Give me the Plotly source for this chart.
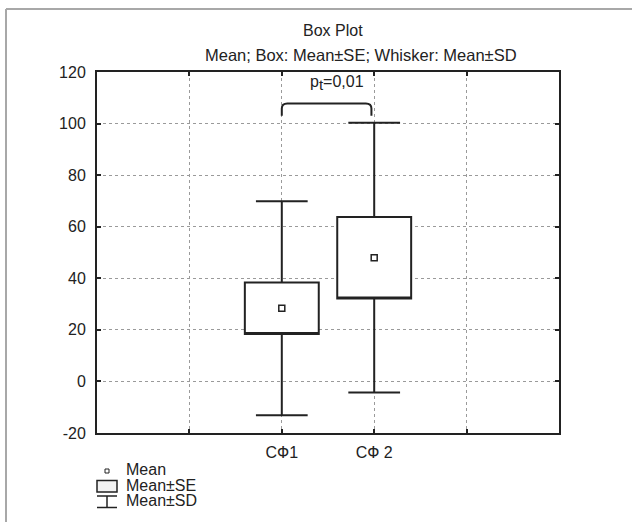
import plotly.graph_objects as go

# ---- data ----
categories = ["СФ1", "СФ 2"]
means = [28.4, 48.0]
se = [10.0, 15.8]
sd = [41.5, 52.3]
p_label = "p<sub><span style='font-size:15px'>t</span></sub>=0,01"
title = "Box Plot"
subtitle = "Mean; Box: Mean±SE; Whisker: Mean±SD"
legend_labels = ["Mean", "Mean±SE", "Mean±SD"]
y_ticks = [-20, 0, 20, 40, 60, 80, 100, 120]
y_tick_text = ["-20", "0", "20", "40", "60", "80", "100", "120"]

# ---- layout geometry ----
W, H = 632, 522
L, R, T, B = 97, 559, 72, 433
FONT = "Liberation Sans, Arial, Helvetica, sans-serif"
DARK = "#222222"

def px(xp):
    return (xp - L) / (R - L)

def py(yp):
    return (B - yp) / (B - T)

xpos = [2, 3]
q1 = [m - s for m, s in zip(means, se)]
q3 = [m + s for m, s in zip(means, se)]
lo = [m - s for m, s in zip(means, sd)]
hi = [m + s for m, s in zip(means, sd)]

fig = go.Figure()
fig.add_trace(go.Box(
    x=xpos, q1=q1, median=q1, q3=q3, lowerfence=lo, upperfence=hi,
    width=0.8, whiskerwidth=0.7,
    fillcolor="white", line=dict(color=DARK, width=2),
    boxpoints=False, hoverinfo="skip", showlegend=False,
))
fig.add_trace(go.Scatter(
    x=xpos, y=means, mode="markers",
    marker=dict(symbol="square", size=6, color="white",
                line=dict(color=DARK, width=1.5)),
    showlegend=False, hoverinfo="skip",
))

# significance bracket
top_y = max(hi) + 7.5
bot_y = max(hi) + 2.7
x0b, x1b = xpos[0], xpos[1] - 0.03
r = 0.06
fig.add_shape(
    type="path", xref="x", yref="y",
    path=(f"M {x0b},{bot_y} L {x0b},{top_y-2} Q {x0b},{top_y} {x0b+r},{top_y} "
          f"L {x1b-r},{top_y} Q {x1b},{top_y} {x1b},{top_y-2} L {x1b},{bot_y}"),
    line=dict(color=DARK, width=2),
)
fig.add_annotation(x=2.6, y=115.6, xref="x", yref="y", text=p_label,
                   xanchor="center", yanchor="middle",
                   showarrow=False, font=dict(size=16, color=DARK, family=FONT))

# titles
fig.add_annotation(x=px(333), y=py(30.7), xref="paper", yref="paper", text=title,
                   xanchor="center", yanchor="middle",
                   showarrow=False, font=dict(size=16, color=DARK, family=FONT))
fig.add_annotation(x=px(361), y=py(55), xref="paper", yref="paper", text=subtitle,
                   xanchor="center", yanchor="middle",
                   showarrow=False, font=dict(size=16.5, color=DARK, family=FONT))

# outer frame (top + left)
fig.add_shape(type="line", xref="paper", yref="paper", x0=px(6), y0=py(9), x1=px(632), y1=py(9),
              line=dict(color="#a8a8a8", width=2))
fig.add_shape(type="line", xref="paper", yref="paper", x0=px(6), y0=py(9), x1=px(6), y1=py(522),
              line=dict(color="#a8a8a8", width=2))

# custom legend
fig.add_shape(type="rect", xref="paper", yref="paper", x0=px(105), x1=px(109), y0=py(469), y1=py(473),
              line=dict(color=DARK, width=1), fillcolor="white")
fig.add_shape(type="rect", xref="paper", yref="paper", x0=px(97), x1=px(117), y0=py(480.5), y1=py(492),
              line=dict(color=DARK, width=1.5), fillcolor="#f2f2f2")
fig.add_shape(type="line", xref="paper", yref="paper", x0=px(97), x1=px(117), y0=py(496), y1=py(496),
              line=dict(color=DARK, width=1.5))
fig.add_shape(type="line", xref="paper", yref="paper", x0=px(107), x1=px(107), y0=py(496), y1=py(507.5),
              line=dict(color=DARK, width=1.5))
fig.add_shape(type="line", xref="paper", yref="paper", x0=px(97), x1=px(117), y0=py(507.5), y1=py(507.5),
              line=dict(color=DARK, width=1.5))
for lab, yc in zip(legend_labels, [470, 485, 500]):
    fig.add_annotation(x=px(124), y=py(yc), xref="paper", yref="paper", text=lab,
                       xanchor="left", yanchor="middle", showarrow=False,
                       font=dict(size=16, color=DARK, family=FONT))

fig.update_layout(
    width=W, height=H,
    margin=dict(l=L, r=W - R, t=T, b=H - B, pad=0),
    paper_bgcolor="white", plot_bgcolor="white",
    font=dict(family=FONT, size=16, color=DARK),
    showlegend=False,
)
fig.update_xaxes(
    range=[0, 5], tickvals=xpos, ticktext=categories,
    showgrid=True, gridcolor="#9a9a9a", griddash="dot", gridwidth=1,
    minor=dict(tick0=0, dtick=1, showgrid=True, gridcolor="#9a9a9a", griddash="dot",
               gridwidth=1, ticks="inside", ticklen=4, tickcolor=DARK, tickwidth=1.5),
    showline=True, linecolor=DARK, linewidth=2, mirror="ticks",
    ticks="inside", ticklen=4, tickcolor=DARK, tickwidth=1.5,
    zeroline=False, ticklabelstandoff=4,
)
fig.update_yaxes(
    range=[-20, 120], tickvals=y_ticks, ticktext=y_tick_text,
    showgrid=True, gridcolor="#9a9a9a", griddash="dot", gridwidth=1,
    showline=True, linecolor=DARK, linewidth=2, mirror="ticks",
    ticks="inside", ticklen=4, tickcolor=DARK, tickwidth=1.5,
    zeroline=False, ticklabelstandoff=6,
)

fig.write_html("out.html")
